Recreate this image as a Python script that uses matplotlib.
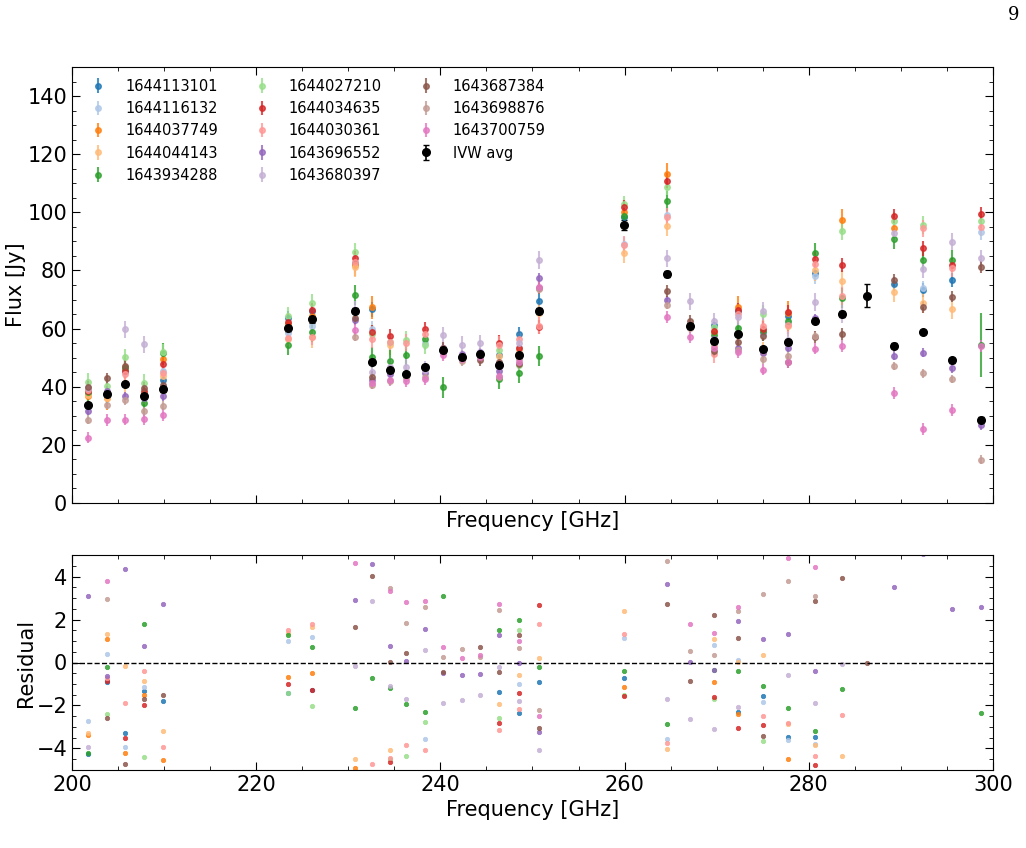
import numpy as np
import matplotlib
matplotlib.use('Agg')
import matplotlib.pyplot as plt
from matplotlib.ticker import MultipleLocator

n = np.nan

freq = [201.7, 203.8, 205.8, 207.8, 209.9, 223.5, 226.1, 230.7, 232.6, 234.5, 236.3,
        238.3, 240.3, 242.3, 244.3, 246.4, 248.5, 250.7, 259.9, 264.6, 267.1, 269.7,
        272.3, 275.0, 277.7, 280.7, 283.6, 286.3, 289.2, 292.4, 295.5, 298.7]

scans = ['1644113101', '1644116132', '1644037749', '1644044143', '1643934288',
         '1644027210', '1644034635', '1644030361', '1643696552', '1643680397',
         '1643687384', '1643698876', '1643700759']

# flux [Jy] per scan, one value per frequency (nan = no data)
flux_1644113101 = [38.0, 37.8, 45.5, 37.6, 42.3, 63.7, 66.0, 82.5, 66.6, n, n, n, n, n, n, 51.0,
                   58.1, 69.4, 98.5, n, n, 61.2, 66.0, 58.5, 64.3, 79.0, n, n, 75.3, 73.3, 76.7, n]
flux_1644116132 = [39.5, 37.6, 45.0, 37.4, 45.5, 58.5, 61.0, 82.0, 60.0, n, n, 55.0, n, n, n, n,
                   53.5, n, 89.1, 99.1, n, 54.5, 58.0, 58.3, 62.0, 78.0, n, n, n, 74.0, n, 93.1]
flux_1644037749 = [36.9, 36.0, 46.8, 37.8, 49.4, 61.5, 64.4, 82.0, 67.3, n, n, n, n, n, n, n,
                   n, n, 100.0, 113.1, n, 59.0, 67.3, n, 65.5, n, 97.2, n, 94.7, n, n, n]
flux_1644044143 = [37.0, 36.2, 41.3, 37.3, 43.8, 56.5, 57.0, 81.3, n, 54.5, n, n, n, n, n, 50.5,
                   52.5, 65.3, 86.1, 95.4, n, 54.0, 58.2, 52.0, 61.0, 80.0, 76.5, n, 72.5, 68.9, 66.7, n]
flux_1643934288 = [38.2, 37.8, 46.5, 34.5, 51.5, 54.3, 58.9, 71.6, 50.1, 49.0, 50.9, 56.5, 39.8, n, n, 42.6,
                   44.8, 50.6, 98.7, 104.0, n, 57.8, 60.1, 59.3, 62.7, 85.9, 70.6, n, 91.0, 83.6, 83.6, 54.4]
flux_1644027210 = [41.8, 40.2, 50.1, 41.4, 51.8, 64.5, 68.9, 86.3, 58.2, 55.5, 56.1, 54.3, n, n, n, 52.6,
                   47.5, n, 102.7, 108.8, n, 60.4, n, 65.1, n, n, 93.6, n, 97.0, 95.6, n, 97.0]
flux_1644034635 = [38.5, 37.9, 45.5, 38.4, 48.0, 62.4, 66.4, 84.2, 58.9, 57.4, n, 59.9, n, n, n, 55.2,
                   53.4, 60.5, 101.9, 110.9, n, 59.2, 66.3, 60.0, 65.7, 83.9, 81.9, n, 98.7, 87.6, 81.9, 99.5]
flux_1644030361 = [39.0, 38.0, 44.4, 37.1, 44.6, 56.9, 57.2, 82.8, 56.4, 55.5, 55.2, 58.0, n, n, n, 54.3,
                   56.3, 61.0, 88.7, 98.5, n, 51.2, 65.0, 60.8, 61.2, 82.2, 71.2, n, n, 94.5, 80.7, 94.8]
flux_1643696552 = [31.7, 38.6, 36.8, 36.3, 36.7, n, n, 62.9, 42.3, 44.5, 44.3, 44.8, 53.4, 51.3, 51.9, 45.5,
                   50.8, 77.5, n, 69.7, 61.0, 56.5, 53.4, 51.5, 53.4, 63.5, n, n, 50.7, 51.7, 46.4, 26.7]
flux_1643680397 = [39.5, n, 59.7, 54.6, n, n, n, 66.5, 45.0, 46.9, 46.7, 45.8, 57.7, 54.3, 54.9, 48.0,
                   54.9, 83.6, n, 84.2, 69.4, 62.5, 64.0, 66.0, 56.0, 69.1, 65.0, n, 92.8, 80.5, 89.9, 84.2]
flux_1643687384 = [40.0, 42.9, 47.1, 39.5, 40.6, n, n, 63.5, 43.5, 45.6, 44.0, n, 53.3, n, 49.2, 48.5,
                   48.0, 74.0, n, 73.0, 62.7, 52.4, 55.5, 57.6, 48.6, 57.1, 58.1, 71.3, 76.7, 67.5, 71.0, 81.3]
flux_1643698876 = [28.7, 33.7, 35.3, 31.5, 33.5, n, n, 57.2, 40.6, 42.0, 43.0, 43.5, 51.8, 48.7, 50.6, 43.2,
                   49.5, 73.8, n, 68.1, 60.1, 55.0, 52.5, 49.4, 50.7, 57.5, n, n, 47.1, 44.6, 42.7, 14.9]
flux_1643700759 = [22.5, 28.5, 28.7, 28.9, 30.3, n, n, 59.5, 41.2, 42.3, 42.0, 42.7, 50.8, 49.7, 50.3, 43.7,
                   48.6, 74.4, n, 64.0, 57.0, 53.4, 51.8, 45.9, 48.5, 53.1, 54.1, n, 37.8, 25.5, 31.9, 54.0]

# typical error bar per scan [Jy]
flux_err = [2.5, 2.5, 4.0, 3.5, 3.5, 3.0, 2.5, 3.0, 1.5, 3.0, 2.0, 1.5, 2.0]
green_err_last = 11.0   # 1643934288 at 298.7 GHz

ivw_avg = [33.7, 37.6, 41.0, 36.8, 39.1, 60.3, 63.2, 66.2, 48.5, 45.6, 44.4, 46.8, 52.6, 50.2, 51.3, 47.6,
           50.8, 66.2, 95.6, 78.7, 61.0, 55.8, 58.2, 53.0, 55.3, 62.7, 64.9, 71.3, 54.1, 58.8, 49.1, 28.7]
ivw_err = [0.8, 0.8, 0.8, 0.8, 0.8, 1.5, 1.3, 0.9, 0.8, 0.7, 0.7, 0.7, 0.8, 0.7, 0.7, 0.8,
           0.8, 1.0, 1.8, 1.0, 1.0, 0.8, 0.8, 0.8, 0.8, 0.9, 1.0, 4.0, 0.8, 0.8, 0.8, 0.8]

# residuals per scan (nan = not shown / outside panel)
res_1644113101 = [-4.26, -0.91, -3.29, -1.32, -1.81, -1.41, -1.26, n, n, n, n, n, n, n, n, -1.35,
                  -2.36, -0.91, -0.74, n, n, n, -2.28, -1.58, -3.47, -3.46, n, n, n, n, n, n]
res_1644116132 = [-2.71, 0.39, -3.92, -1.13, n, 1.02, 1.2, n, n, n, n, -3.58, n, n, n, n,
                  -1.02, n, 1.15, -3.55, n, 0.82, 0.11, -1.86, -3.61, -3.78, n, n, n, n, n, n]
res_1644037749 = [-3.35, 1.10, -4.19, -1.53, -4.54, -0.68, -0.48, -4.9, n, n, n, n, n, n, n, n,
                  n, n, -1.15, n, n, -0.93, -2.39, n, -4.51, n, n, n, n, n, n, n]
res_1644044143 = [-3.3, 1.32, -0.14, -0.85, -3.18, 1.35, 1.64, -4.5, n, -4.05, n, n, n, n, n, -1.94,
                  -0.59, 0.22, 2.4, -4.03, n, 1.07, 0.03, 0.36, -2.88, -3.83, -4.34, n, n, n, n, n]
res_1643934288 = [-4.2, -0.2, n, 1.78, n, 1.29, 0.71, -2.1, -0.71, -1.18, -1.94, -2.29, 3.08, n, n, 1.49,
                  2.0, -0.22, -0.39, -2.84, n, -0.33, -0.39, -1.07, -2.11, -3.18, -1.22, n, n, n, n, -2.33]
res_1644027210 = [n, -2.4, n, -4.4, n, -1.41, -2.03, n, n, -4.48, -4.37, -2.78, n, n, n, -2.57,
                  1.5, n, -1.52, n, n, -1.69, n, -3.63, n, n, n, n, n, n, n, n]
res_1644034635 = [n, -0.84, -3.52, -2.0, n, -1.02, -1.26, n, n, -4.62, n, n, n, n, n, -2.82,
                  -1.41, 2.67, -1.58, n, n, -1.61, -3.07, -2.93, n, -4.79, n, n, n, n, n, n]
res_1644030361 = [n, -0.74, -1.89, -0.39, -3.94, 1.52, 1.78, n, -4.71, -4.43, -3.86, -4.09, n, n, n, -3.12,
                  -2.17, 1.77, 1.32, -3.74, n, n, n, -2.51, -2.8, -4.33, -2.45, n, n, n, n, n]
res_1643696552 = [3.08, -0.64, 4.34, 0.76, 2.7, n, n, 2.9, 4.56, 0.76, 0.05, 1.57, -0.51, -0.6, -0.53, 1.26,
                  -0.03, -3.22, n, 3.67, 0.03, -0.37, 1.92, 1.1, 1.32, -0.39, n, n, 3.5, 5.05, 2.47, 2.57]
res_1643680397 = [-3.94, n, n, n, n, n, n, -0.14, 2.85, -1.1, -1.69, 0.57, -1.89, -1.75, -1.53, -0.22,
                  -1.81, -4.08, n, -1.69, -2.65, -3.09, -2.06, n, -0.6, -1.89, -0.07, n, n, n, n, n]
res_1643687384 = [n, -2.6, -4.74, -1.71, -1.49, n, n, 1.64, 4.01, 0.03, 0.43, n, -0.43, n, 0.73, -0.45,
                  1.26, -3.04, n, 2.71, -0.84, 2.19, 1.12, -3.44, n, 2.85, 3.95, 0.0, n, n, n, n]
res_1643698876 = [n, 2.95, n, n, n, n, n, n, n, 3.47, 1.86, 2.59, 0.26, 0.65, 0.26, 2.42,
                  0.68, -2.23, n, 4.7, 0.53, 0.33, 2.4, 3.18, 3.8, 3.09, n, n, n, n, n, n]
res_1643700759 = [n, 3.77, n, n, n, n, n, 4.64, n, 3.33, 2.82, 2.85, 0.71, 0.19, 0.34, 2.74,
                  0.98, -2.47, n, n, 1.81, 1.38, 2.59, n, 4.84, 4.43, n, n, n, n, n, n]

fluxes = [flux_1644113101, flux_1644116132, flux_1644037749, flux_1644044143, flux_1643934288,
          flux_1644027210, flux_1644034635, flux_1644030361, flux_1643696552, flux_1643680397,
          flux_1643687384, flux_1643698876, flux_1643700759]
residuals = [res_1644113101, res_1644116132, res_1644037749, res_1644044143, res_1643934288,
             res_1644027210, res_1644034635, res_1644030361, res_1643696552, res_1643680397,
             res_1643687384, res_1643698876, res_1643700759]

plt.rcParams.update({'font.size': 15})
fig = plt.figure(figsize=(10.26, 8.48), dpi=100)
top = fig.add_axes([0.0702, 0.4068, 0.8976, 0.5142])
bot = fig.add_axes([0.0702, 0.092, 0.8976, 0.2535])

freq = np.array(freq)
for i, name in enumerate(scans):
    f = np.array(fluxes[i])
    e = np.full(len(freq), flux_err[i])
    if name == '1643934288':
        e[-1] = green_err_last
    col = plt.cm.tab20(i)
    top.errorbar(freq, f, yerr=e, fmt='o', ms=4, color=col, alpha=0.8,
                 elinewidth=1.5, label=name)
    bot.plot(freq, residuals[i], 'o', ms=3.2, color=col, alpha=0.85,
             markeredgewidth=0.5)

top.errorbar(freq, ivw_avg, yerr=ivw_err, fmt='o', ms=5.5, color='black',
             capsize=2.5, elinewidth=1.2, label='IVW avg')

top.set_xlim(200, 300)
top.set_ylim(0, 150)
top.set_ylabel('Flux [Jy]', labelpad=1)
top.set_xlabel('Frequency [GHz]', labelpad=2)
top.tick_params(labelbottom=False)
top.yaxis.set_major_locator(MultipleLocator(20))
top.yaxis.set_minor_locator(MultipleLocator(5))
top.legend(loc='upper left', ncol=3, frameon=False, fontsize=10.5,
           handletextpad=0.85, columnspacing=2.0, borderaxespad=0.4, labelspacing=0.5)

bot.axhline(0, color='black', ls='--', lw=1)
bot.set_xlim(200, 300)
bot.set_ylim(-5, 5)
bot.set_ylabel('Residual', labelpad=0)
bot.set_xlabel('Frequency [GHz]', labelpad=4)
bot.yaxis.set_major_locator(MultipleLocator(2))
bot.yaxis.set_minor_locator(MultipleLocator(0.5))

for ax in (top, bot):
    ax.xaxis.set_major_locator(MultipleLocator(20))
    ax.xaxis.set_minor_locator(MultipleLocator(5))
    ax.tick_params(which='both', direction='in', top=True, right=True)
    ax.tick_params(which='major', length=6)
    ax.tick_params(which='minor', length=3)

fig.text(0.994, 0.993, '9', family='serif', fontsize=13, ha='right', va='top')

fig.savefig('out.png', dpi=100)
